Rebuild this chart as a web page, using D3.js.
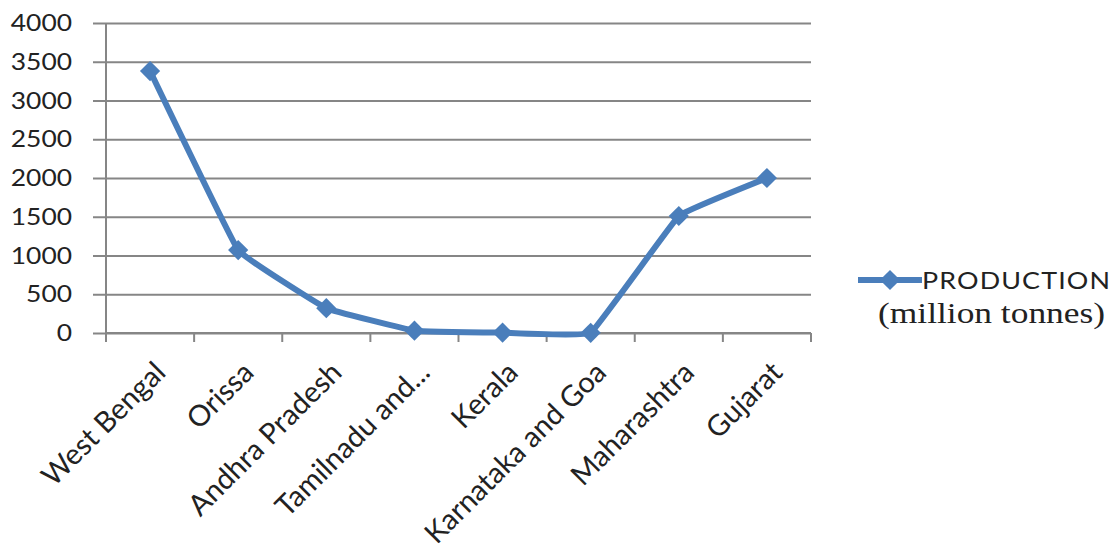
<!DOCTYPE html>
<html>
<head>
<meta charset="utf-8">
<script src="https://cdn.jsdelivr.net/npm/d3@7"></script>
<style>
  body { margin: 0; background: #fff; }
  svg { display: block; }
</style>
</head>
<body>
<script>
// chart data
const states = ["West Bengal", "Orissa", "Andhra Pradesh", "Tamilnadu and...", "Kerala", "Karnataka and Goa", "Maharashtra", "Gujarat"];
const production = [3380, 1070, 320, 30, 5, 2, 1510, 2000];
const yTicks = [0, 500, 1000, 1500, 2000, 2500, 3000, 3500, 4000];

const W = 1111, H = 551;
const margin = { top: 23, right: 300, bottom: 218, left: 106 };

let svg = d3.select("body").append("svg")
  .attr("width", W)
  .attr("height", H);

const x = d3.scaleBand().domain(states).range([margin.left, W - margin.right]);
const y = d3.scaleLinear().domain([0, 4000]).range([H - margin.bottom, margin.top]);

const gridColor = "#868686";
const blue = "#4A7EBB";
const sans = "Lato, 'Open Sans', sans-serif";

// horizontal grid lines with tick stubs on the left
svg.append("g")
  .attr("transform", `translate(${margin.left},0)`)
  .call(d3.axisLeft(y).tickValues(yTicks).tickFormat(d3.format("d"))
    .tickSize(-(W - margin.right - margin.left)).tickPadding(0))
  .call(g => g.select(".domain").remove())
  .call(g => g.selectAll(".tick line")
    .attr("x1", -13)
    .attr("stroke", gridColor).attr("stroke-width", 2))
  .call(g => g.selectAll(".tick text")
    .attr("x", null)
    .attr("transform", "translate(-34,0) scale(1.1,1)")
    .attr("font-family", sans)
    .attr("font-size", 24)
    .attr("fill", "#222"));

// vertical axis line
svg.append("line")
  .attr("x1", margin.left).attr("x2", margin.left)
  .attr("y1", y(4000)).attr("y2", y(0) + 6)
  .attr("stroke", gridColor).attr("stroke-width", 2);

// x axis
const xAxis = svg.append("g")
  .attr("transform", `translate(0,${y(0)})`);
xAxis.append("line")
  .attr("x1", margin.left).attr("x2", W - margin.right)
  .attr("stroke", gridColor).attr("stroke-width", 2);
xAxis.selectAll("line.tk")
  .data(d3.range(states.length + 1))
  .enter().append("line")
  .attr("class", "tk")
  .attr("x1", i => margin.left + i * x.bandwidth())
  .attr("x2", i => margin.left + i * x.bandwidth())
  .attr("y1", 0).attr("y2", 9)
  .attr("stroke", gridColor).attr("stroke-width", 2);
xAxis.selectAll("text")
  .data(states)
  .enter().append("text")
  .attr("transform", d => `translate(${x(d) + x.bandwidth() / 2 + 12},${36}) rotate(-45)`)
  .attr("text-anchor", "end")
  .attr("dominant-baseline", "middle")
  .attr("font-family", sans)
  .attr("font-size", 29)
  .attr("fill", "#222")
  .text(d => d);

// smoothed line
const line = d3.line()
  .x((d, i) => x(states[i]) + x.bandwidth() / 2)
  .y(d => y(d))
  .curve(d3.curveCardinal.tension(0.8));

svg.append("path")
  .datum(production)
  .attr("d", line)
  .attr("fill", "none")
  .attr("stroke", blue)
  .attr("stroke-width", 6)
  .attr("stroke-linejoin", "round");

// diamond markers
const diamond = d3.symbol().type(d3.symbolDiamond2).size(260);
svg.selectAll("path.mk")
  .data(production)
  .enter().append("path")
  .attr("class", "mk")
  .attr("d", diamond)
  .attr("transform", (d, i) => `translate(${x(states[i]) + x.bandwidth() / 2},${y(d)})`)
  .attr("fill", blue);

// legend
const lg = svg.append("g").attr("transform", "translate(858,280)");
lg.append("line").attr("x1", 0).attr("x2", 64)
  .attr("stroke", blue).attr("stroke-width", 6);
lg.append("path").attr("d", diamond).attr("transform", "translate(32,0)").attr("fill", blue);
lg.append("text")
  .attr("transform", "translate(64,9) scale(1.12,1)")
  .attr("font-family", sans)
  .attr("font-size", 24)
  .attr("letter-spacing", 1)
  .attr("fill", "#222")
  .text("PRODUCTION");
lg.append("text")
  .attr("transform", "translate(20,43) scale(1.18,1)")
  .attr("font-family", "'Liberation Serif', 'DejaVu Serif', serif")
  .attr("font-size", 30)
  .attr("fill", "#222")
  .text("(million tonnes)");
</script>
</body>
</html>
